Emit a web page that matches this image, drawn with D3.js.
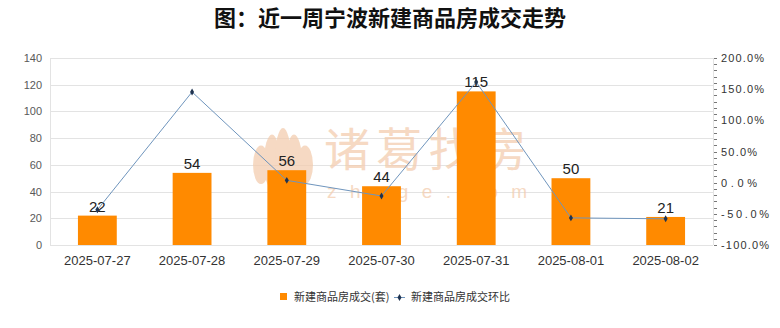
<!DOCTYPE html>
<html>
<head>
<meta charset="utf-8">
<script src="https://cdn.jsdelivr.net/npm/d3@7"></script>
<style>
  html, body { margin: 0; padding: 0; background: #ffffff; }
  svg { display: block; }
  text { font-family: "Liberation Sans", Arial, "Noto Sans CJK SC", sans-serif; }
</style>
</head>
<body>
<svg id="chart" width="780" height="328"></svg>
<script>
// Daily new-home transactions in Ningbo over the last week
const dates = ["2025-07-27", "2025-07-28", "2025-07-29", "2025-07-30", "2025-07-31", "2025-08-01", "2025-08-02"];
const deals = [22, 54, 56, 44, 115, 50, 21];
const changePct = [-43.6, 145.5, 3.7, -21.4, 161.4, -56.5, -58.0];
const leftTicks = [0, 20, 40, 60, 80, 100, 120, 140];
const rightTicks = [-100, -50, 0, 50, 100, 150, 200];

const svg = d3.select("#chart");
const W = 780, H = 328;
const m = { left: 50, right: 67, top: 58, bottom: 83 };
const x0 = m.left, x1 = W - m.right, y0 = H - m.bottom, y1 = m.top;

const x = d3.scaleBand().domain(dates).range([x0, x1]).paddingInner(0.59).paddingOuter(0.295);
const yL = d3.scaleLinear().domain([0, 140]).range([y0, y1]);
const yR = d3.scaleLinear().domain([-100, 200]).range([y0, y1]);

// Title
svg.append("text")
  .attr("x", W / 2).attr("y", 26)
  .attr("text-anchor", "middle")
  .style("font-family", "'Noto Sans CJK SC', sans-serif")
  .style("font-size", "22px").style("font-weight", "bold")
  .attr("fill", "#111")
  .text("图：近一周宁波新建商品房成交走势");

// Horizontal grid
svg.append("g").selectAll("line").data(leftTicks).join("line")
  .attr("x1", x0).attr("x2", x1)
  .attr("y1", d => Math.round(yL(d)) + 0.5).attr("y2", d => Math.round(yL(d)) + 0.5)
  .attr("stroke", "#e3e3e3").attr("stroke-width", 1);

// Plot frame sides
svg.append("line").attr("x1", x0 + 0.5).attr("x2", x0 + 0.5).attr("y1", y1).attr("y2", y0)
  .attr("stroke", "#e3e3e3");
svg.append("line").attr("x1", x1 + 0.5).attr("x2", x1 + 0.5).attr("y1", y1).attr("y2", y0)
  .attr("stroke", "#e3e3e3");

// Watermark
const wm = svg.append("g").attr("opacity", 0.75);
const lotus = wm.append("g").attr("fill", "#f3cdaf");
[[-22, 0.6], [-11, 0.85], [0, 1], [11, 0.85], [22, 0.6]].forEach(([dx, s]) => {
  lotus.append("ellipse")
    .attr("cx", 283 + dx).attr("cy", 160 + (1 - s) * 12)
    .attr("rx", 8).attr("ry", 32 * s);
});
wm.append("text").attr("x", 324).attr("y", 166)
  .style("font-family", "'Noto Sans CJK SC', sans-serif")
  .style("font-size", "46px").attr("fill", "#f3cdaf")
  .attr("textLength", 203)
  .text("诸葛找房");
wm.append("text").attr("x", 327).attr("y", 198)
  .style("font-size", "19px").attr("fill", "#f3cdaf")
  .attr("textLength", 200).attr("lengthAdjust", "spacing")
  .text("zhuge.com");

// Bars
svg.append("g").selectAll("rect").data(deals).join("rect")
  .attr("x", (d, i) => x(dates[i]))
  .attr("width", x.bandwidth())
  .attr("y", d => yL(d))
  .attr("height", d => y0 - yL(d))
  .attr("fill", "#ff8a00");

// Bar value labels
svg.append("g").selectAll("text").data(deals).join("text")
  .attr("x", (d, i) => x(dates[i]) + x.bandwidth() / 2)
  .attr("y", d => yL(d) - 4)
  .attr("text-anchor", "middle")
  .style("font-size", "15px").attr("fill", "#222")
  .text(d => d);

// Change line
const cx = (d, i) => x(dates[i]) + x.bandwidth() / 2;
svg.append("path")
  .datum(changePct)
  .attr("fill", "none").attr("stroke", "#6f95bd").attr("stroke-width", 1)
  .attr("d", d3.line().x(cx).y(d => yR(d)));
svg.append("g").selectAll("path").data(changePct).join("path")
  .attr("transform", (d, i) => `translate(${cx(d, i)},${yR(d)})`)
  .attr("d", d3.symbol().type(d3.symbolDiamond).size(14))
  .attr("fill", "#1f3350");

// Left axis labels
const axL = svg.append("g").attr("transform", `translate(${x0},0)`)
  .call(d3.axisLeft(yL).tickValues(leftTicks).tickSize(0).tickPadding(8));
axL.select(".domain").remove();
axL.selectAll("text").style("font-size", "11px").attr("fill", "#595959")
  .style("font-family", "'Liberation Sans', Arial, sans-serif");

// Right axis with minor ticks
const minor = d3.range(-100, 201, 10);
svg.append("g").selectAll("line").data(minor).join("line")
  .attr("x1", x1 + 1).attr("x2", x1 + 4)
  .attr("y1", d => Math.round(yR(d)) + 0.5).attr("y2", d => Math.round(yR(d)) + 0.5)
  .attr("stroke", "#777");
const axR = svg.append("g").attr("transform", `translate(${x1},0)`)
  .call(d3.axisRight(yR).tickValues(rightTicks).tickSize(0).tickPadding(8)
    .tickFormat(d => d.toFixed(1) + "%"));
axR.select(".domain").remove();
axR.selectAll("text").style("font-size", "11px").attr("fill", "#333")
  .attr("textLength", d => d < 0 ? 48 : (Math.abs(d) >= 100 ? 43 : 36));

// Category axis labels
const axB = svg.append("g").attr("transform", `translate(0,${y0})`)
  .call(d3.axisBottom(x).tickSize(0).tickPadding(11));
axB.select(".domain").remove();
axB.selectAll("text").style("font-size", "13px").attr("fill", "#333");

// Legend
const lg = svg.append("g").attr("transform", "translate(0,297)");
lg.append("rect").attr("x", 280).attr("y", -4).attr("width", 7).attr("height", 7).attr("fill", "#ff8a00");
lg.append("text").attr("x", 294).attr("y", 4)
  .style("font-family", "'Noto Sans CJK SC', sans-serif")
  .style("font-size", "11px").attr("fill", "#333")
  .text("新建商品房成交(套)");
lg.append("line").attr("x1", 394).attr("x2", 405).attr("y1", 0.5).attr("y2", 0.5)
  .attr("stroke", "#6f95bd");
lg.append("path").attr("transform", "translate(399.5,0.5)")
  .attr("d", d3.symbol().type(d3.symbolDiamond).size(14)).attr("fill", "#1f3350");
lg.append("text").attr("x", 411).attr("y", 4)
  .style("font-family", "'Noto Sans CJK SC', sans-serif")
  .style("font-size", "11px").attr("fill", "#333")
  .text("新建商品房成交环比");
</script>
</body>
</html>
